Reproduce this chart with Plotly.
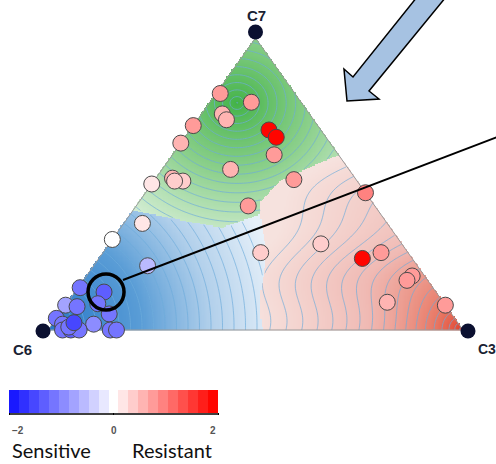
import numpy as np
import plotly.graph_objects as go

W, H = 496, 464

# ---- sample compositions (fractions of C7, C6, C3) and response scores ----
c7 = [0.81, 0.78, 0.74, 0.72, 0.70, 0.685, 0.66, 0.64, 0.60, 0.55,
      0.50, 0.52, 0.51, 0.51, 0.515, 0.47, 0.425, 0.365, 0.31, 0.22,
      0.265, 0.295, 0.245, 0.265, 0.185, 0.17, 0.095, 0.085,
      0.13, 0.145, 0.085, 0.08, 0.09, 0.055, 0.04, 0.02, 0.02,
      0.00, 0.00, 0.00, 0.00, 0.00, 0.01, 0.025]
c6 = [0.18, 0.12, 0.21, 0.21, 0.30, 0.125, 0.12, 0.36, 0.155, 0.285,
      0.50, 0.44, 0.42, 0.44, 0.15, 0.00, 0.305, 0.59, 0.69, 0.65,
      0.355, 0.195, 0.12, 0.065, 0.03, 0.05, 0.135, 0.00,
      0.80, 0.85, 0.915, 0.89, 0.835, 0.825, 0.96, 0.955, 0.88,
      0.85, 0.835, 0.965, 0.945, 0.925, 0.945, 0.925]
c3 = [0.01, 0.10, 0.05, 0.07, 0.00, 0.19, 0.22, 0.00, 0.245, 0.165,
      0.00, 0.04, 0.07, 0.05, 0.335, 0.53, 0.27, 0.045, 0.00, 0.13,
      0.38, 0.51, 0.635, 0.67, 0.785, 0.78, 0.77, 0.915,
      0.07, 0.005, 0.00, 0.03, 0.075, 0.12, 0.00, 0.025, 0.10,
      0.15, 0.165, 0.035, 0.055, 0.075, 0.045, 0.05]
score = [0.75, 0.75, 0.55, 0.55, 0.7, 2.0, 2.0, 0.6, 0.7, 0.6,
         0.2, 0.5, 0.3, 0.45, 0.75, 0.95, 0.8, 0.1, 0.0, -0.5,
         0.45, 0.45, 2.0, 0.75, 0.8, 0.75, 0.5, 0.8,
         -1.25, -1.15, -0.7, -1.15, -1.15, -1.15, -1.1, -1.15, -1.0,
         -1.15, -1.1, -1.1, -1.25, -1.15, -1.2, -1.5]

vertex_names = ["C7", "C6", "C3"]
cbar_ticks = [-2, 0, 2]
cbar_tick_text = ["\u22122", "0", "2"]
cbar_words = ["Sensitive", "Resistant"]

# ---- geometry: C6 at (0,0), C3 at (1,0), C7 at (0.5,1) ----
X0PX, X1PX, YBOT, YTOP = 48, 463, 330, 38
SX, SY = X1PX - X0PX, YBOT - YTOP


def to_xy(a, b, c):
    a = np.asarray(a, float); b = np.asarray(b, float); c = np.asarray(c, float)
    s = a + b + c
    a, c = a / s, c / s
    return c + 0.5 * a, a


def paper(px, py):
    return px / W, 1 - py / H


# ---- background response surface ----
nx, ny = 330, 240
u = np.linspace(0, 1, nx)
v = np.linspace(0, 1, ny)
U, V = np.meshgrid(u, v)
PX = X0PX + SX * U
PY = YBOT - SY * V
tol = 0.004
inside = (V <= 2 * U + tol) & (V <= 2 * (1 - U) + tol)

x_br = 263 + 3 * np.sin((PY - 230) / 16)
v_gr = np.interp(U, [0.50, 0.56, 0.655, 0.74], [0.42, 0.51, 0.572, 0.62])
v_gb = np.interp(U, [0.0, 0.198, 0.342, 0.42, 0.52, 1.0],
                 [0.43, 0.411, 0.37, 0.35, 0.40, 0.40])
red = (PX > x_br) & (V < v_gr)
blue = ~red & (V < v_gb)
green = ~red & ~blue

rg = np.hypot(PX - 237, (PY - 103) * 1.1)
Fg = np.clip(1 - (rg / 175) ** 0.85, 0, 1)
rb = np.hypot(PX - 50, PY - 326)
Fb = np.clip(1 - (rb / 230) ** 1.0, 0, 1)
rr = np.hypot(PX - 462, PY - 329)
rr_w = rr + 7 * np.clip(rr / 120, 0, 1) * np.sin(2 * np.pi * (PY - 300) / 90)
Fr = np.clip(1 - (np.clip(rr_w, 0, None) / 215) ** 0.67, 0, 1)

Z = np.where(blue, Fb, np.where(green, 2 + Fg, 4 + Fr))
Z = np.where(inside, Z, np.nan)

surface_scale = [
    [0.00, "rgb(230,240,249)"], [0.06, "rgb(178,208,235)"],
    [0.12, "rgb(90,157,214)"], [0.20, "rgb(40,120,200)"],
    [0.40, "rgb(226,243,226)"], [0.50, "rgb(140,208,140)"],
    [0.60, "rgb(65,178,70)"],
    [0.80, "rgb(246,226,222)"], [0.88, "rgb(240,186,180)"],
    [0.95, "rgb(232,118,98)"], [1.00, "rgb(224,58,38)"],
]

fig = go.Figure()
fig.add_trace(go.Heatmap(x=u, y=v, z=Z, zmin=0, zmax=5, colorscale=surface_scale,
                         showscale=False, hoverinfo="skip", zsmooth=False))

step = 2
for mask, F, size in [(blue, Fb, 0.05), (green, Fg, 0.055), (red, Fr, 1 / 19)]:
    Zc = np.where(mask & inside, F, np.nan)[::step, ::step]
    fig.add_trace(go.Contour(
        x=u[::step], y=v[::step], z=Zc, connectgaps=False, showscale=False,
        hoverinfo="skip",
        contours=dict(coloring="none", start=size, end=1.0, size=size),
        line=dict(color="rgba(110,172,220,0.85)", width=0.8)))

# triangle frame
fig.add_trace(go.Scatter(x=[0, 1, 0.5, 0], y=[0, 0, 1, 0], mode="lines",
                         line=dict(color="#9a9a9a", width=1), hoverinfo="skip"))

# vertex markers, nudged outward from the corners
vx, vy = to_xy([1, 0, 0], [0, 1, 0], [0, 0, 1])
off = np.array([[0, 6], [-5, -1], [5, -1]], float)
fig.add_trace(go.Scatter(x=vx + off[:, 0] / SX, y=vy + off[:, 1] / SY, mode="markers",
                         marker=dict(size=15, color="#0b1030"), hoverinfo="skip"))

# discrete blue-white-red scale
n = 21
blue_end = np.array([25, 25, 255]); red_end = np.array([255, 5, 0]); white = np.array([255, 255, 255])
point_scale = []
for i in range(n):
    t = (i - 10) / 10
    col = white + abs(t) * ((blue_end if t < 0 else red_end) - white)
    cstr = "rgb(%d,%d,%d)" % tuple(np.round(col).astype(int))
    point_scale += [[i / n, cstr], [(i + 1) / n, cstr]]

px_, py_ = to_xy(c7, c6, c3)
cb_x, _ = paper(9, 0)
_, cb_y = paper(0, 390)
fig.add_trace(go.Scatter(
    x=px_, y=py_, mode="markers", hoverinfo="skip",
    marker=dict(size=16, color=score, colorscale=point_scale, cmin=-2, cmax=2,
                line=dict(color="#4a4a4a", width=1),
                colorbar=dict(orientation="h", x=cb_x, xanchor="left", y=cb_y, yanchor="top",
                              len=209, lenmode="pixels", thickness=23, thicknessmode="pixels",
                              xpad=0, ypad=0, outlinewidth=0, tickvals=cbar_ticks,
                              ticks="outside", ticklen=2, tickcolor="black", tickwidth=1,
                              showticklabels=False))))

shapes = []
# highlighted sample ring
rcx, rcy = px_[28], py_[28]
r = 18
shapes.append(dict(type="circle", xref="x", yref="y",
                   x0=rcx - r / SX + 2 / SX, x1=rcx + r / SX + 2 / SX,
                   y0=rcy - r / SY, y1=rcy + r / SY,
                   line=dict(color="black", width=3.5)))
# leader line
x0p, y0p = paper(123, 280)
x1p, y1p = paper(500, 136)
shapes.append(dict(type="line", xref="paper", yref="paper", x0=x0p, y0=y0p, x1=x1p, y1=y1p,
                   line=dict(color="black", width=2)))
# block arrow
arrow_px = [(421, -8), (353, 77), (344, 69), (347, 101), (379, 99), (369, 91), (450, -8)]
pts = [paper(a, b) for a, b in arrow_px]
path = "M " + " L ".join("%.4f %.4f" % p for p in pts) + " Z"
shapes.append(dict(type="path", xref="paper", yref="paper", path=path,
                   fillcolor="rgb(166,194,226)", line=dict(color="black", width=1.5)))
# axis line under the colour bar
lx0, ly = paper(9, 414)
lx1, _ = paper(218, 414)
shapes.append(dict(type="line", xref="paper", yref="paper", x0=lx0, x1=lx1, y0=ly, y1=ly,
                   line=dict(color="black", width=1.5)))

annotations = []
label_pos = [(256, 15, "center", 15), (22, 349, "center", 15), (476, 349, "left", 14)]
for name, (lx, lyy, anc, fs) in zip(vertex_names, label_pos):
    ax_, ay_ = paper(lx, lyy)
    annotations.append(dict(x=ax_, y=ay_, xref="paper", yref="paper", text=name, showarrow=False,
                            xanchor=anc, yanchor="middle",
                            font=dict(size=fs, color="#1a1f33", family="Liberation Sans",
                                      weight="bold")))
# colour bar tick labels placed along the bar (value -> pixel)
for val, txt in zip(cbar_ticks, cbar_tick_text):
    tx = 9 + (val + 2) / 4 * 209
    anc = "left" if val == cbar_ticks[0] else ("right" if val == cbar_ticks[-1] else "center")
    ax_, ay_ = paper(tx + (1 if anc == "left" else 0), 430)
    annotations.append(dict(x=ax_, y=ay_, xref="paper", yref="paper", text=txt, showarrow=False,
                            xanchor=anc, yanchor="middle",
                            font=dict(size=10, color="#555555", family="Liberation Sans",
                                      weight="bold")))
for word, wx in zip(cbar_words, [10, 130]):
    ax_, ay_ = paper(wx, 450)
    annotations.append(dict(x=ax_, y=ay_, xref="paper", yref="paper", text=word, showarrow=False,
                            xanchor="left", yanchor="middle",
                            font=dict(size=20, color="#111111", family="Lato")))

fig.update_layout(
    width=W, height=H, margin=dict(l=0, r=0, t=0, b=0),
    paper_bgcolor="white", plot_bgcolor="white", showlegend=False,
    xaxis=dict(range=[-X0PX / SX, (W - X0PX) / SX], visible=False, domain=[0, 1]),
    yaxis=dict(range=[-(H - YBOT) / SY, YBOT / SY], visible=False, domain=[0, 1]),
    shapes=shapes, annotations=annotations,
)

fig.write_html("out.html")
